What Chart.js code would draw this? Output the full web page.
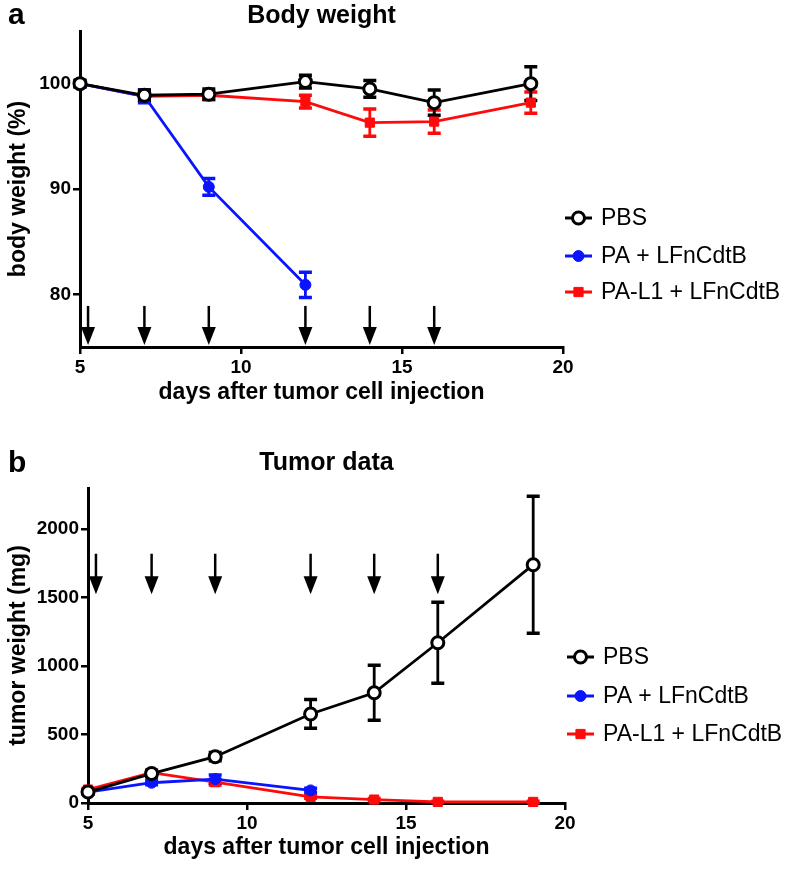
<!DOCTYPE html>
<html><head><meta charset="utf-8">
<script src="https://cdn.jsdelivr.net/npm/chart.js@4.4.0/dist/chart.umd.min.js"></script>
<style>
html,body{margin:0;padding:0;background:#fff;}
#wrap{position:relative;width:785px;height:869px;}
.box{position:absolute;left:0;width:785px;}
#b1{top:0;height:434px;}
#b2{top:434px;height:435px;}
</style></head><body>
<div id="wrap"><div class="box" id="b1"><canvas id="c1"></canvas></div><div class="box" id="b2"><canvas id="c2"></canvas></div></div>
<script>
// ---- data ----
const days = [5, 7, 9, 12, 14, 16, 19];
const paDays = [5, 7, 9, 12];
const seriesNames = ['PBS', 'PA + LFnCdtB', 'PA-L1 + LFnCdtB'];
const bwPBS = [100, 98.9, 99.0, 100.2, 99.5, 98.2, 100.0];
const bwPBSerr = [0.3, 0.5, 0.5, 0.6, 0.8, 1.2, 1.6];
const bwPA = [100, 98.8, 90.2, 80.9];
const bwPAerr = [0.3, 0.6, 0.8, 1.2];
const bwPAL1 = [100, 98.8, 98.9, 98.3, 96.3, 96.4, 98.2];
const bwPAL1err = [0.3, 0.4, 0.4, 0.6, 1.3, 1.1, 1.0];
const tuPBS = [80, 215, 338, 650, 805, 1170, 1740];
const tuPBSerr = [15, 25, 30, 105, 200, 295, 500];
const tuPA = [80, 148, 175, 92];
const tuPAerr = [10, 15, 30, 15];
const tuPAL1 = [98, 222, 152, 45, 25, 8, 8];
const tuPAL1err = [10, 15, 20, 10, 8, 5, 5];
const arrowDays = [5.25, 7, 9, 12, 14, 16];
const xTicks = [5, 10, 15, 20];
const bwTicks = [80, 90, 100];
const tuTicks = [0, 500, 1000, 1500, 2000];

const FONT = '"Liberation Sans", Arial, Helvetica, sans-serif';
const pts = (xs, ys) => xs.map((x, i) => ({x: x, y: ys[i]}));

const errorBars = {
  id: 'errorBars',
  beforeDatasetsDraw(chart) {
    const ctx = chart.ctx, ys = chart.scales.y;
    for (let i = chart.data.datasets.length - 1; i >= 0; i--) {
      const ds = chart.data.datasets[i], meta = chart.getDatasetMeta(i);
      if (!ds.errors) continue;
      ctx.save();
      ctx.strokeStyle = ds.borderColor;
      meta.data.forEach((pt, j) => {
        const v = ds.data[j].y, e = ds.errors[j];
        const yt = ys.getPixelForValue(v + e), yb = ys.getPixelForValue(v - e);
        ctx.lineWidth = 2.8;
        ctx.beginPath(); ctx.moveTo(pt.x, yt); ctx.lineTo(pt.x, yb); ctx.stroke();
        ctx.lineWidth = 3.5;
        ctx.beginPath();
        ctx.moveTo(pt.x - 6.5, yt); ctx.lineTo(pt.x + 6.5, yt);
        ctx.moveTo(pt.x - 6.5, yb); ctx.lineTo(pt.x + 6.5, yb);
        ctx.stroke();
      });
      ctx.restore();
    }
  }
};

const arrows = {
  id: 'arrows',
  afterDatasetsDraw(chart, args, opts) {
    const ctx = chart.ctx, x = chart.scales.x, y = chart.scales.y;
    ctx.save();
    ctx.strokeStyle = '#000'; ctx.fillStyle = '#000'; ctx.lineWidth = 2.5;
    opts.days.forEach(d => {
      const px = x.getPixelForValue(d), y0 = y.getPixelForValue(opts.from), y1 = y.getPixelForValue(opts.to);
      ctx.beginPath(); ctx.moveTo(px, y0); ctx.lineTo(px, y1 - 10); ctx.stroke();
      ctx.beginPath(); ctx.moveTo(px - 7, y1 - 18); ctx.lineTo(px + 7, y1 - 18); ctx.lineTo(px, y1); ctx.closePath(); ctx.fill();
    });
    ctx.restore();
  }
};

const sideLegend = {
  id: 'sideLegend',
  afterDraw(chart, args, opts) {
    const ctx = chart.ctx;
    chart.data.datasets.forEach((ds, i) => {
      const y = opts.rows[i];
      ctx.save();
      ctx.strokeStyle = ds.borderColor; ctx.lineWidth = 3;
      ctx.beginPath(); ctx.moveTo(opts.x, y); ctx.lineTo(opts.x + 27, y); ctx.stroke();
      ctx.fillStyle = ds.pointBackgroundColor; ctx.lineWidth = ds.pointBorderWidth;
      Chart.helpers.drawPoint(ctx, {pointStyle: ds.pointStyle, radius: ds.pointRadius, borderWidth: ds.pointBorderWidth, rotation: 0}, opts.x + 13.5, y);
      ctx.fillStyle = '#000';
      ctx.font = '23px ' + FONT;
      ctx.textBaseline = 'middle'; ctx.textAlign = 'left';
      ctx.fillText(ds.label, opts.x + 36, y + 1);
      ctx.restore();
    });
    if (opts.letter) {
      ctx.save();
      ctx.fillStyle = '#000'; ctx.font = 'bold 30px ' + FONT;
      ctx.textBaseline = 'middle'; ctx.textAlign = 'left';
      ctx.fillText(opts.letter, opts.letterX, opts.letterY);
      ctx.restore();
    }
  }
};

function makeDatasets(a, ae, b, be, c, ce) {
  return [
    {label: seriesNames[0], data: pts(days, a), errors: ae, borderColor: '#000', backgroundColor: '#fff',
     pointBackgroundColor: '#fff', pointBorderColor: '#000', pointStyle: 'circle', pointRadius: 6, pointBorderWidth: 3, borderWidth: 2.8},
    {label: seriesNames[1], data: pts(paDays, b), errors: be, borderColor: '#0a14ff', backgroundColor: '#0a14ff',
     pointBackgroundColor: '#0a14ff', pointBorderColor: '#0a14ff', pointStyle: 'circle', pointRadius: 5.5, pointBorderWidth: 1, borderWidth: 2.8},
    {label: seriesNames[2], data: pts(days, c), errors: ce, borderColor: '#ff0a0a', backgroundColor: '#ff0a0a',
     pointBackgroundColor: '#ff0a0a', pointBorderColor: '#ff0a0a', pointStyle: 'rect', pointRadius: 6.5, pointBorderWidth: 1, borderWidth: 2.8}
  ];
}

function axisCommon(ticksArr) {
  return {
    type: 'linear',
    afterBuildTicks: s => { s.ticks = ticksArr.map(v => ({value: v})); },
    grid: {drawOnChartArea: false, drawTicks: true, tickLength: 7, tickColor: '#000', tickWidth: 2.5, color: '#000', lineWidth: 2.5},
    border: {display: true, color: '#000', width: 3},
    ticks: {color: '#000', font: {family: FONT, size: 19, weight: 'bold'}, padding: 2, maxRotation: 0, autoSkip: false,
            callback: v => String(v)}
  };
}

function makeChart(id, cfg) {
  const xs = axisCommon(xTicks);
  xs.min = 5; xs.max = 20;
  xs.title = {display: true, text: 'days after tumor cell injection', color: '#000', font: {family: FONT, size: 23, weight: 'bold'}, padding: 0};
  xs.afterFit = s => { s.height = cfg.xHeight; };
  const ys = axisCommon(cfg.yTicks);
  ys.min = cfg.yMin; ys.max = cfg.yMax;
  ys.title = {display: true, text: cfg.yTitle, color: '#000', font: {family: FONT, size: 23, weight: 'bold'}, padding: 0};
  ys.afterFit = s => { s.width = cfg.yWidth; };
  return new Chart(document.getElementById(id), {
    type: 'line',
    data: {datasets: cfg.datasets},
    options: {
      responsive: true, maintainAspectRatio: false, animation: false,
      layout: {padding: cfg.padding},
      datasets: {line: {clip: false, tension: 0}},
      scales: {x: xs, y: ys},
      plugins: {
        legend: {display: false}, tooltip: {enabled: false},
        title: {display: true, text: cfg.title, fullSize: false, color: '#000', font: {family: FONT, size: 25, weight: 'bold'}, padding: cfg.titlePad},
        arrows: cfg.arrows,
        sideLegend: cfg.legend
      }
    },
    plugins: [errorBars, arrows, sideLegend]
  });
}

makeChart('c1', {
  title: 'Body weight', yTitle: 'body weight (%)', yMin: 75, yMax: 105, yTicks: bwTicks,
  datasets: makeDatasets(bwPBS, bwPBSerr, bwPA, bwPAerr, bwPAL1, bwPAL1err),
  padding: {left: 5, right: 222, top: 0, bottom: 28}, yWidth: 75, xHeight: 59,
  titlePad: {top: 1, bottom: 0},
  arrows: {days: arrowDays, from: 78.9, to: 75.2},
  legend: {x: 565, rows: [218, 256, 292], letter: 'a', letterX: 8, letterY: 16}
});

makeChart('c2', {
  title: 'Tumor data', yTitle: 'tumor weight (mg)', yMin: 0, yMax: 2300, yTicks: tuTicks,
  datasets: makeDatasets(tuPBS, tuPBSerr, tuPA, tuPAerr, tuPAL1, tuPAL1err),
  padding: {left: 5, right: 220, top: 0, bottom: 8}, yWidth: 83, xHeight: 58,
  titlePad: {top: 14, bottom: 10},
  arrows: {days: arrowDays, from: 1820, to: 1525},
  legend: {x: 567, rows: [223, 262, 300], letter: 'b', letterX: 8, letterY: 30}
});
</script>
</body></html>
